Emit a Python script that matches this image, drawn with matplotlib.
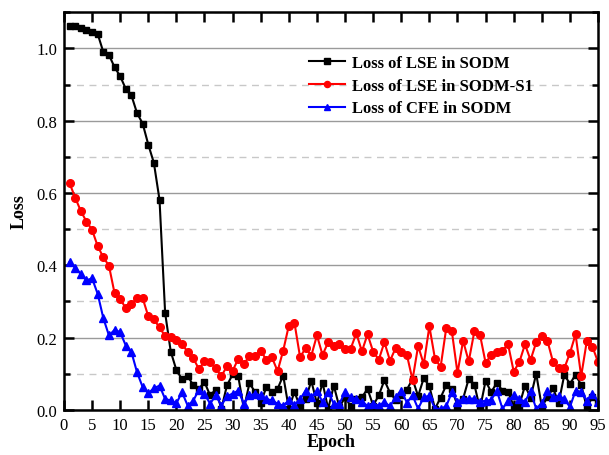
import numpy as np
import matplotlib.pyplot as plt
from matplotlib.ticker import MultipleLocator

# --- Data ---
epochs = np.arange(1, 96)

loss_lse_sodm = [
    1.063, 1.062, 1.056, 1.050, 1.045, 1.040, 0.990, 0.982, 0.948, 0.923,
    0.888, 0.870, 0.821, 0.792, 0.734, 0.683, 0.581, 0.268, 0.161, 0.110,
    0.085, 0.094, 0.068, 0.058, 0.077, 0.040, 0.056, 0.003, 0.068, 0.098,
    0.093, 0.003, 0.074, 0.049, 0.019, 0.063, 0.049, 0.058, 0.095, 0.003,
    0.050, 0.008, 0.030, 0.080, 0.018, 0.075, 0.003, 0.067, 0.007, 0.035,
    0.010, 0.030, 0.035, 0.058, 0.012, 0.040, 0.082, 0.047, 0.028, 0.040,
    0.056, 0.085, 0.038, 0.088, 0.065, 0.003, 0.034, 0.068, 0.057, 0.012,
    0.031, 0.086, 0.070, 0.003, 0.080, 0.049, 0.075, 0.053, 0.050, 0.010,
    0.012, 0.067, 0.034, 0.100, 0.008, 0.035, 0.060, 0.019, 0.097, 0.072,
    0.097, 0.069, 0.007, 0.035, 0.023,
]

loss_lse_sodm_s1 = [
    0.627, 0.587, 0.550, 0.521, 0.498, 0.453, 0.422, 0.399, 0.323, 0.307,
    0.281, 0.292, 0.309, 0.309, 0.259, 0.250, 0.228, 0.204, 0.201, 0.192,
    0.183, 0.160, 0.143, 0.113, 0.134, 0.132, 0.115, 0.093, 0.121, 0.108,
    0.141, 0.126, 0.150, 0.149, 0.163, 0.139, 0.145, 0.107, 0.164, 0.233,
    0.241, 0.146, 0.171, 0.150, 0.206, 0.152, 0.187, 0.176, 0.183, 0.169,
    0.169, 0.212, 0.162, 0.209, 0.161, 0.139, 0.187, 0.136, 0.171, 0.161,
    0.152, 0.083, 0.177, 0.126, 0.231, 0.141, 0.119, 0.226, 0.217, 0.102,
    0.191, 0.134, 0.217, 0.208, 0.130, 0.152, 0.161, 0.164, 0.181, 0.106,
    0.132, 0.181, 0.138, 0.187, 0.203, 0.191, 0.132, 0.115, 0.115, 0.157,
    0.209, 0.093, 0.190, 0.175, 0.132,
]

loss_cfe_sodm = [
    0.409, 0.393, 0.376, 0.358, 0.364, 0.321, 0.254, 0.206, 0.221, 0.215,
    0.178, 0.160, 0.104, 0.063, 0.046, 0.060, 0.067, 0.030, 0.026, 0.018,
    0.049, 0.012, 0.025, 0.056, 0.044, 0.017, 0.040, 0.012, 0.038, 0.045,
    0.053, 0.017, 0.040, 0.044, 0.040, 0.030, 0.026, 0.017, 0.012, 0.026,
    0.014, 0.030, 0.053, 0.035, 0.053, 0.021, 0.049, 0.017, 0.017, 0.049,
    0.035, 0.030, 0.021, 0.012, 0.017, 0.012, 0.021, 0.010, 0.035, 0.053,
    0.020, 0.040, 0.003, 0.035, 0.039, 0.003, 0.003, 0.010, 0.049, 0.023,
    0.031, 0.031, 0.031, 0.023, 0.025, 0.028, 0.053, 0.003, 0.025, 0.040,
    0.030, 0.023, 0.051, 0.003, 0.018, 0.051, 0.035, 0.038, 0.030, 0.008,
    0.053, 0.050, 0.025, 0.045, 0.022,
]

plt.rcParams['font.family'] = ['Liberation Serif', 'DejaVu Serif']

fig = plt.figure(figsize=(6.09, 4.56), dpi=100)
ax = fig.add_axes([0.105, 0.099, 0.877, 0.872])

# --- Grid ---
ax.yaxis.set_major_locator(MultipleLocator(0.2))
ax.yaxis.set_minor_locator(MultipleLocator(0.1))
ax.xaxis.set_major_locator(MultipleLocator(5))
ax.grid(axis='y', which='major', color='#9a9a9a', linestyle='-', linewidth=1.0)
ax.grid(axis='y', which='minor', color='#c8c8c8', linestyle=(0, (5, 4)), linewidth=1.0)
ax.set_axisbelow(True)

# --- Curves ---
ax.plot(epochs, loss_lse_sodm, color='black', marker='s', markersize=5,
        linewidth=1.5, label='Loss of LSE in SODM')
ax.plot(epochs, loss_lse_sodm_s1, color='red', marker='o', markersize=5.5,
        linewidth=1.5, label='Loss of LSE in SODM-S1')
ax.plot(epochs, loss_cfe_sodm, color='blue', marker='^', markersize=6,
        linewidth=1.5, label='Loss of CFE in SODM')

ax.set_xlim(0, 95)
ax.set_ylim(0, 1.1)
ax.yaxis.set_major_formatter(plt.FormatStrFormatter('%.1f'))

for side in ax.spines.values():
    side.set_linewidth(1.8)

ax.tick_params(which='both', direction='in', top=True, right=True,
               labelsize=12, width=1.8, pad=5)
ax.tick_params(which='major', length=7)
ax.tick_params(which='minor', length=4)
ax.tick_params(axis='x', which='minor', bottom=False, top=False)

ax.set_xlabel('Epoch', fontsize=13, fontweight='bold', labelpad=0)
ax.set_ylabel('Loss', fontsize=13, fontweight='bold', labelpad=6)

ax.legend(loc='upper left', bbox_to_anchor=(0.43, 0.93), frameon=False,
          prop={'weight': 'bold', 'size': 12}, handlelength=2.2,
          markerscale=0.8, labelspacing=0.4, handletextpad=0.4)

fig.savefig('out.png', dpi=100)
